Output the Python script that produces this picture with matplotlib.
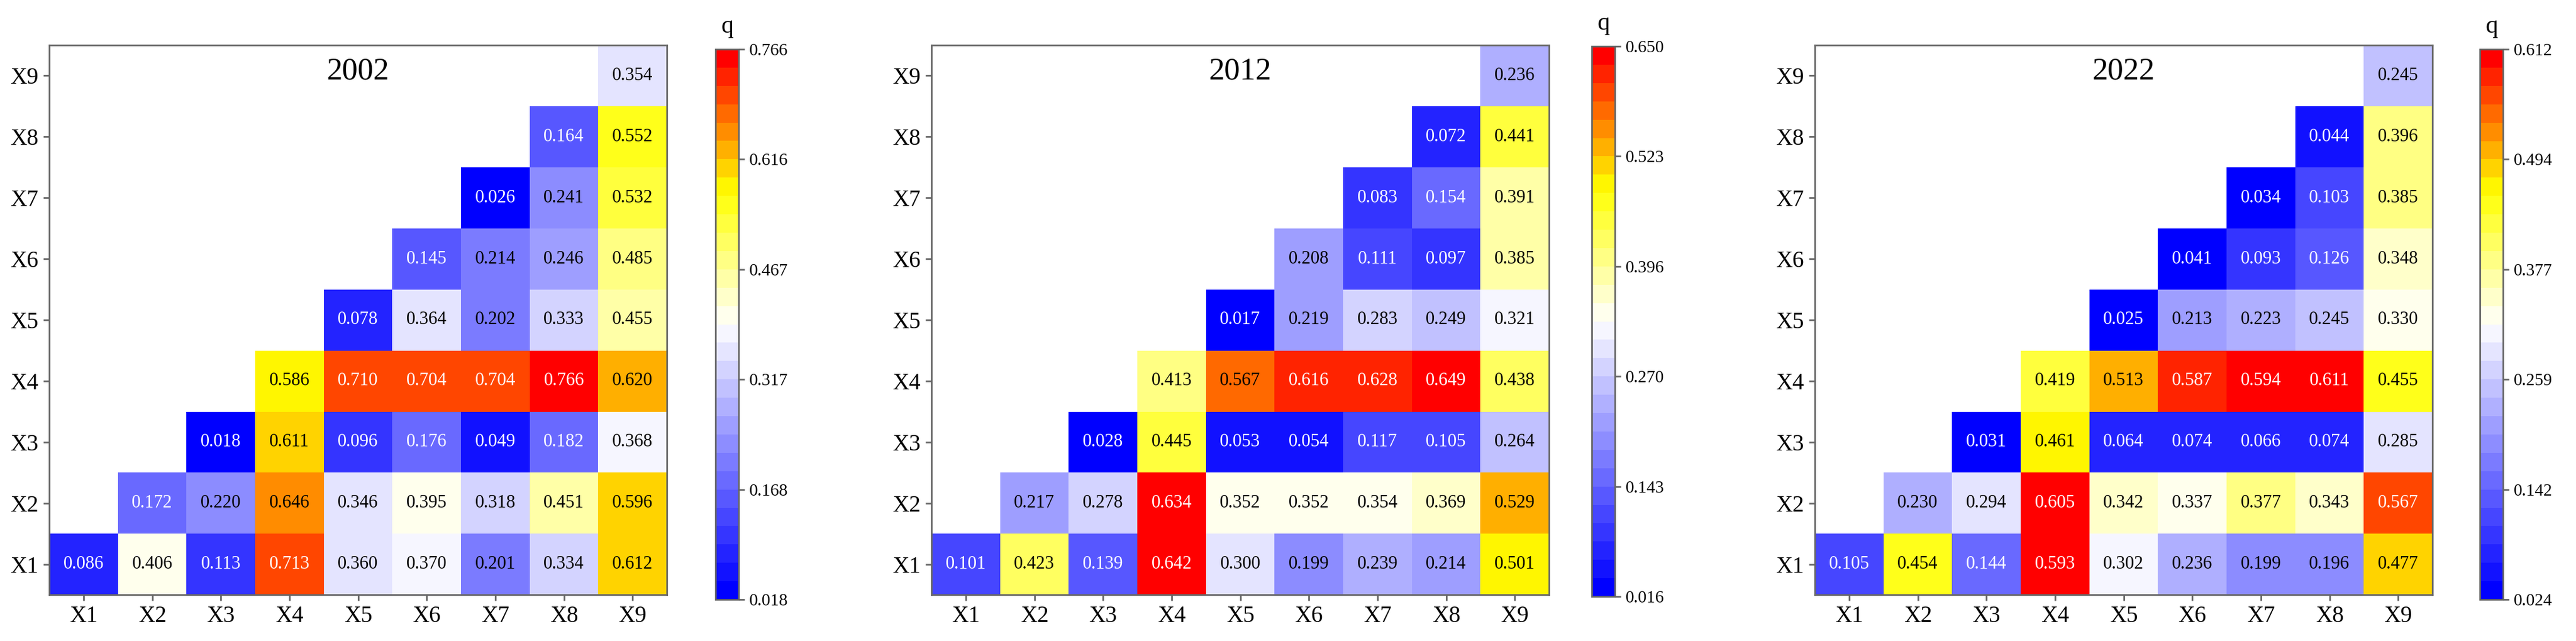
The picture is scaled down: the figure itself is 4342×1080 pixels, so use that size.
import numpy as np
import matplotlib
matplotlib.use("Agg")
import matplotlib.pyplot as plt
from matplotlib.colors import LinearSegmentedColormap

plt.rcParams['font.family'] = ['Liberation Serif', 'DejaVu Serif']

labels = ['X1', 'X2', 'X3', 'X4', 'X5', 'X6', 'X7', 'X8', 'X9']
years = ['2002', '2012', '2022']

# row Xi holds the values for columns Xi..X9
q_2002 = [
    [0.086, 0.406, 0.113, 0.713, 0.360, 0.370, 0.201, 0.334, 0.612],
    [0.172, 0.220, 0.646, 0.346, 0.395, 0.318, 0.451, 0.596],
    [0.018, 0.611, 0.096, 0.176, 0.049, 0.182, 0.368],
    [0.586, 0.710, 0.704, 0.704, 0.766, 0.620],
    [0.078, 0.364, 0.202, 0.333, 0.455],
    [0.145, 0.214, 0.246, 0.485],
    [0.026, 0.241, 0.532],
    [0.164, 0.552],
    [0.354],
]
q_2012 = [
    [0.101, 0.423, 0.139, 0.642, 0.300, 0.199, 0.239, 0.214, 0.501],
    [0.217, 0.278, 0.634, 0.352, 0.352, 0.354, 0.369, 0.529],
    [0.028, 0.445, 0.053, 0.054, 0.117, 0.105, 0.264],
    [0.413, 0.567, 0.616, 0.628, 0.649, 0.438],
    [0.017, 0.219, 0.283, 0.249, 0.321],
    [0.208, 0.111, 0.097, 0.385],
    [0.083, 0.154, 0.391],
    [0.072, 0.441],
    [0.236],
]
q_2022 = [
    [0.105, 0.454, 0.144, 0.593, 0.302, 0.236, 0.199, 0.196, 0.477],
    [0.230, 0.294, 0.605, 0.342, 0.337, 0.377, 0.343, 0.567],
    [0.031, 0.461, 0.064, 0.074, 0.066, 0.074, 0.285],
    [0.419, 0.513, 0.587, 0.594, 0.611, 0.455],
    [0.025, 0.213, 0.223, 0.245, 0.330],
    [0.041, 0.093, 0.126, 0.348],
    [0.034, 0.103, 0.385],
    [0.044, 0.396],
    [0.245],
]
q_all = [q_2002, q_2012, q_2022]
cbar_min = [0.018, 0.016, 0.024]
cbar_max = [0.766, 0.650, 0.612]

cmap = LinearSegmentedColormap.from_list(
    'bwyr', [(0, 'blue'), (0.5, 'white'), (0.75, 'yellow'), (1.0, 'red')], N=30)

W, H = 4342, 1080
fig = plt.figure(figsize=(W / 100, H / 100), dpi=100)

ax_left = [83, 1570, 3059]
cb_left = [1206, 2683, 4180]
cb_top = [83, 78, 83]
spine_col = '#666666'

for k in range(3):
    n = len(labels)
    grid = np.full((n, n), np.nan)
    for i, row in enumerate(q_all[k]):
        for j, v in enumerate(row):
            grid[i, i + j] = v
    data = np.ma.masked_invalid(grid)

    ax = fig.add_axes([ax_left[k] / W, 78 / H, 1041 / W, 926 / H])
    vmin, vmax = cbar_min[k], cbar_max[k]
    im = ax.imshow(data, cmap=cmap, vmin=vmin, vmax=vmax, origin='lower',
                   aspect='auto', interpolation='nearest')
    for i in range(n):
        for j in range(n):
            if data.mask[i, j]:
                continue
            v = grid[i, j]
            frac = (v - vmin) / (vmax - vmin)
            col = 'white' if (frac < 0.23 or frac > 0.9) else 'black'
            ax.text(j, i, f'{v:.3f}', ha='center', va='center', fontsize=22, color=col)

    ax.set_xticks(range(n))
    ax.set_yticks(range(n))
    ax.set_xticklabels(labels)
    ax.set_yticklabels(labels)
    ax.tick_params(labelsize=28, length=7, width=2, color=spine_col, pad=6)
    for s in ax.spines.values():
        s.set_color(spine_col)
        s.set_linewidth(2)
    ax.text(0.5, 0.952, years[k], transform=ax.transAxes, ha='center', va='center',
            fontsize=38)

    cax = fig.add_axes([cb_left[k] / W, (H - cb_top[k] - 927) / H, 39 / W, 927 / H])
    cb = fig.colorbar(im, cax=cax, ticks=np.linspace(vmin, vmax, 6))
    cb.ax.set_yticklabels([f'{t:.3f}' for t in np.linspace(vmin, vmax, 6)])
    cb.ax.tick_params(labelsize=21, length=7, width=2, color=spine_col, pad=6)
    cb.outline.set_edgecolor(spine_col)
    cb.outline.set_linewidth(2)
    cax.text(0.5, 1.02, 'q', transform=cax.transAxes, ha='center', va='bottom', fontsize=30)

fig.savefig('out.png', dpi=100)
